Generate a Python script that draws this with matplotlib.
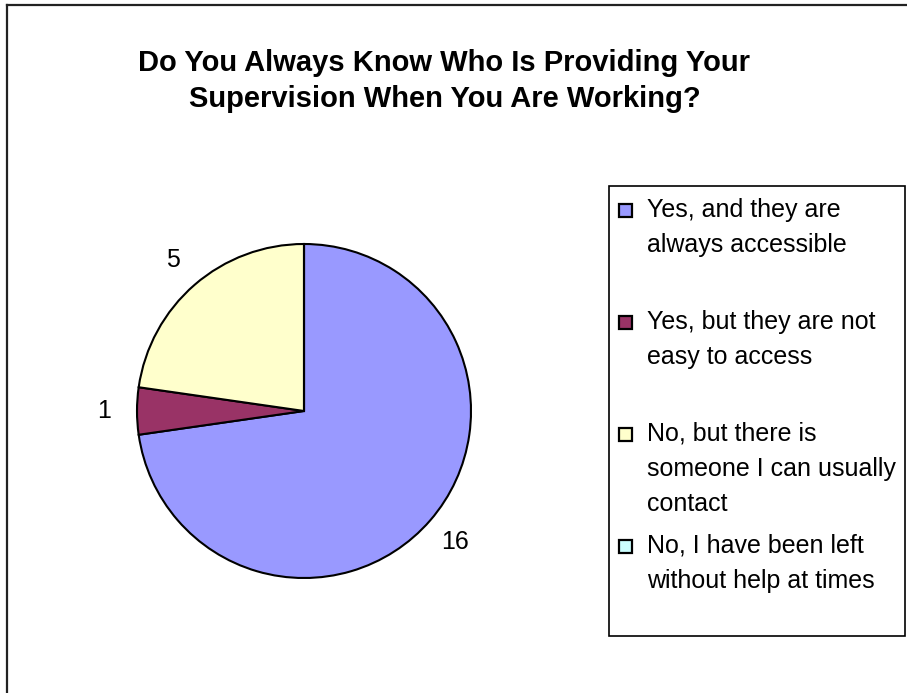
import matplotlib
matplotlib.use("Agg")
import matplotlib.pyplot as plt
from matplotlib.patches import Rectangle
from matplotlib.lines import Line2D

plt.rcParams['font.family'] = ['Liberation Sans', 'DejaVu Sans']

# ---- data ----
title_lines = ["Do You Always Know Who Is Providing Your",
               "Supervision When You Are Working?"]
categories = ["Yes, and they are\nalways accessible",
              "Yes, but they are not\neasy to access",
              "No, but there is\nsomeone I can usually\ncontact",
              "No, I have been left\nwithout help at times"]
values = [16, 1, 5, 0]
colors = ["#9999FF", "#993366", "#FFFFCC", "#CCFFFF"]

W, H = 907, 693
fig = plt.figure(figsize=(W / 100, H / 100), dpi=100)
fx = lambda x: x / W
fy = lambda y: 1 - y / H

# outer chart border (left / top visible)
fig.add_artist(Line2D([fx(7), fx(7)], [fy(5), 0], color="#222222", lw=1.6))
fig.add_artist(Line2D([fx(7), 1], [fy(5), fy(5)], color="#222222", lw=1.6))

# title
for i, line in enumerate(title_lines):
    fig.text(fx(444.5), fy(71 + 36 * i), line, ha="center", va="baseline",
             fontsize=21, fontweight="bold")

# pie
cx, cy, r = 304, 411, 167
ax = fig.add_axes([fx(cx - r), fy(cy + r), 2 * r / W, 2 * r / H])
labels = [str(v) if v > 0 else "" for v in values]
wedges, texts = ax.pie(values, labels=labels, colors=colors, startangle=90,
                       counterclock=False, labeldistance=1.2,
                       wedgeprops=dict(edgecolor="black", linewidth=1.5),
                       textprops=dict(fontsize=18))
for t in texts:
    t.set_ha("center")
    t.set_va("center")
ax.set_xlim(-1, 1)
ax.set_ylim(-1, 1)
ax.set_aspect("auto")
ax.axis("off")

# legend (manual, Excel-like equal slot layout)
lx0, ly0, lx1, ly1 = 609, 186, 905, 636
fig.add_artist(Rectangle((fx(lx0), fy(ly1)), (lx1 - lx0) / W, (ly1 - ly0) / H,
                         transform=fig.transFigure, facecolor="white",
                         edgecolor="black", lw=1.2))
first_baseline = 217
slot = 112
pitch = 35
for i, (cat, col) in enumerate(zip(categories, colors)):
    baseline = first_baseline + slot * i
    lines = cat.split("\n")
    fig.add_artist(Rectangle((fx(619), fy(baseline)), 13 / W, 13 / H,
                             transform=fig.transFigure, facecolor=col,
                             edgecolor="black", lw=1.6))
    for j, ln in enumerate(lines):
        fig.text(fx(647), fy(baseline + pitch * j), ln, ha="left",
                 va="baseline", fontsize=18)

fig.savefig("out.png", dpi=100, facecolor="white")
